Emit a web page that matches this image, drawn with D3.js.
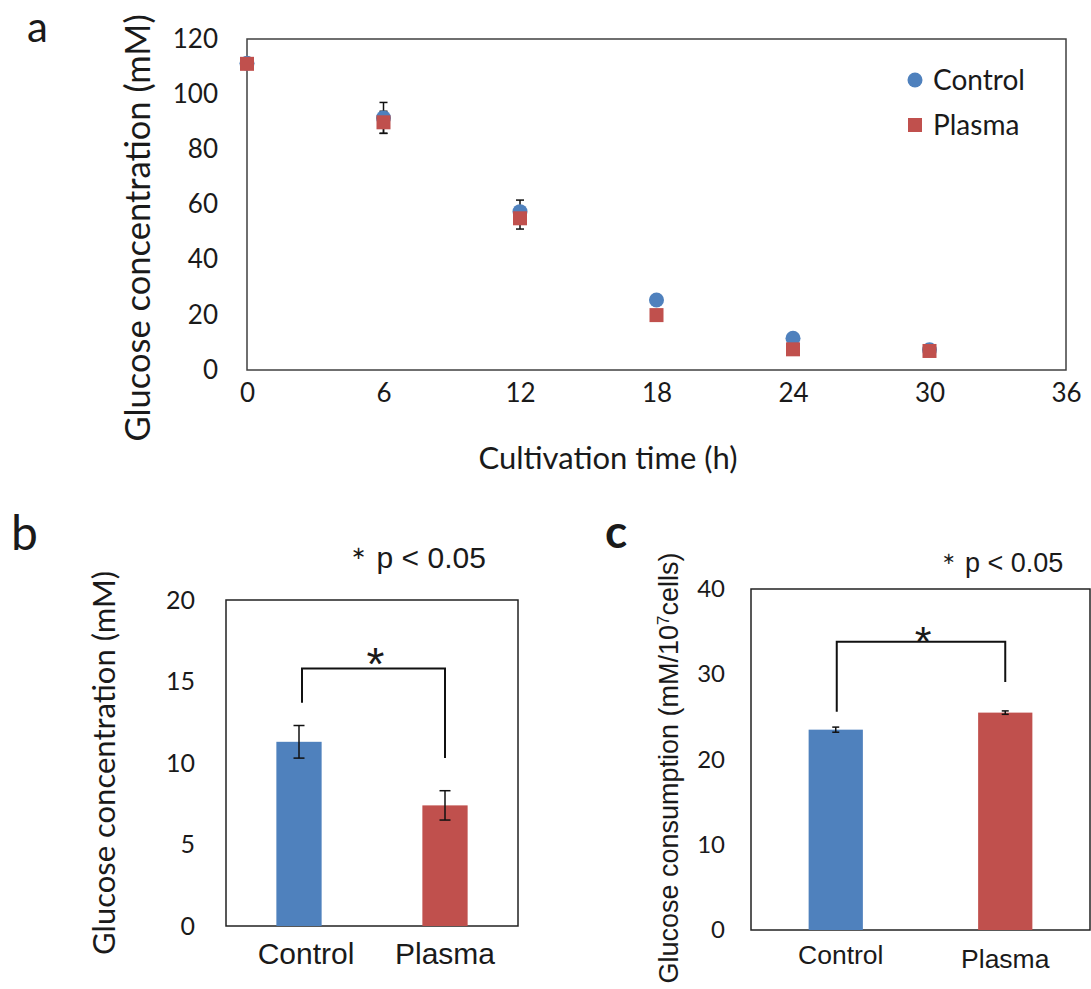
<!DOCTYPE html>
<html>
<head>
<meta charset="utf-8">
<script src="https://cdnjs.cloudflare.com/ajax/libs/d3/7.8.5/d3.min.js"></script>
<style>
  body { margin: 0; background: #fff; }
  svg text { font-family: Lato, "Open Sans", sans-serif; fill: #1a1a1a; }
</style>
</head>
<body>
<script>
// ---- data, panel a (glucose over cultivation time)
var hours = [0, 6, 12, 18, 24, 30];
var controlTime = [111.2, 91.4, 57.4, 25.4, 11.5, 7.3];
var controlTimeErr = [1.2, 5.6, 4.2, 1.0, 0.8, 0.5];
var plasmaTime = [111.0, 89.8, 55.0, 19.9, 7.5, 6.9];
var plasmaTimeErr = [1.0, 4.0, 3.9, 0.8, 0.6, 0.4];
var xTicksA = [0, 6, 12, 18, 24, 30, 36];
var yTicksA = [0, 20, 40, 60, 80, 100, 120];

// ---- data, panel b (residual glucose)
var groups = ["Control", "Plasma"];
var residual = [11.3, 7.4];
var residualErr = [1.0, 0.9];
var yTicksB = [0, 5, 10, 15, 20];
var bracketB = [13.7, 15.8, 10.3];   // left foot, bar, right foot

// ---- data, panel c (glucose consumption)
var consumption = [23.5, 25.5];
var consumptionErr = [0.3, 0.2];
var yTicksC = [0, 10, 20, 30, 40];
var bracketC = [25.6, 33.8, 29.1];

var blue = "#4f81bd";
var red = "#c0504d";
var arial = "Liberation Sans, Arial, sans-serif";

var svg = d3.select("body")
            .append("svg")
            .attr("width", 1091)
            .attr("height", 989);

// ================= panel a =================
var boxA = {left: 247, right: 1066, top: 39, bottom: 370};

var xA = d3.scaleLinear().domain([0, 36]).range([boxA.left, boxA.right]);
var yA = d3.scaleLinear().domain([0, 120]).range([boxA.bottom, boxA.top]);

var gA = svg.append("g");

gA.append("rect")
  .attr("x", boxA.left)
  .attr("y", boxA.top)
  .attr("width", boxA.right - boxA.left)
  .attr("height", boxA.bottom - boxA.top)
  .attr("fill", "none")
  .attr("stroke", "#404040")
  .attr("stroke-width", 1.5);

// axes without lines, only labels
var axA = gA.append("g")
            .attr("transform", "translate(" + [boxA.left, 0] + ")")
            .call(d3.axisLeft(yA).tickValues(yTicksA).tickSize(0).tickPadding(29));
var axAx = gA.append("g")
             .attr("transform", "translate(" + [0, boxA.bottom] + ")")
             .call(d3.axisBottom(xA).tickValues(xTicksA).tickSize(0).tickPadding(14));
[axA, axAx].forEach(function(ax) {
  ax.select(".domain").remove();
  ax.selectAll("text")
    .style("font-family", "Lato")
    .style("font-size", "26px")
    .attr("fill", "#1a1a1a");
});

gA.append("text")
  .attr("x", 608)
  .attr("y", 469)
  .attr("text-anchor", "middle")
  .style("font-size", "31px")
  .text("Cultivation time (h)");

gA.append("text")
  .attr("transform", "translate(" + [150, 228] + ") rotate(-90)")
  .attr("text-anchor", "middle")
  .style("font-size", "34.5px")
  .text("Glucose concentration (mM)");

// error bars first, markers on top
function errorBars(g, xs, ys, errs, xScale, yScale, cap) {
  var eb = g.append("g").attr("stroke", "#111").attr("stroke-width", 1.5);
  xs.forEach(function(d, i) {
    var x = xScale(d);
    var y1 = yScale(ys[i] + errs[i]);
    var y2 = yScale(ys[i] - errs[i]);
    eb.append("line").attr("x1", x).attr("x2", x).attr("y1", y1).attr("y2", y2);
    eb.append("line").attr("x1", x - cap / 2).attr("x2", x + cap / 2).attr("y1", y1).attr("y2", y1);
    eb.append("line").attr("x1", x - cap / 2).attr("x2", x + cap / 2).attr("y1", y2).attr("y2", y2);
  });
}

errorBars(gA, hours, controlTime, controlTimeErr, xA, yA, 8);
errorBars(gA, hours, plasmaTime, plasmaTimeErr, xA, yA, 8);

gA.append("g")
  .selectAll("circle")
  .data(hours)
  .enter()
  .append("circle")
  .attr("cx", function(d) { return xA(d); })
  .attr("cy", function(d, i) { return yA(controlTime[i]); })
  .attr("r", 7.5)
  .attr("fill", blue);

gA.append("g")
  .selectAll("rect")
  .data(hours)
  .enter()
  .append("rect")
  .attr("x", function(d) { return xA(d) - 7; })
  .attr("y", function(d, i) { return yA(plasmaTime[i]) - 7; })
  .attr("width", 14)
  .attr("height", 14)
  .attr("fill", red);

// legend
var leg = gA.append("g").attr("transform", "translate(915, 80)");
leg.append("circle").attr("r", 7.5).attr("fill", blue);
leg.append("rect").attr("x", -7).attr("y", 38).attr("width", 14).attr("height", 14).attr("fill", red);
leg.append("text").attr("x", 18).attr("y", 10).style("font-size", "28px").attr("fill", "#595959").text("Control");
leg.append("text").attr("x", 18).attr("y", 55).style("font-size", "28px").attr("fill", "#595959").text("Plasma");

// panel letters
svg.append("text").attr("x", 27).attr("y", 42).style("font-size", "42px").text("a");
svg.append("text").attr("x", 11).attr("y", 550).style("font-size", "48px").text("b");
svg.append("text").attr("x", 605).attr("y", 548).style("font-size", "46px").style("font-weight", 700).text("c");

// ================= bar panels b and c =================
function barPanel(opt) {
  var g = svg.append("g");
  var box = opt.box;

  var x = d3.scaleBand().domain(groups).range([box.left, box.right]);
  var y = d3.scaleLinear().domain(opt.domain).range([box.bottom, box.top]);
  var bw = x.bandwidth() * opt.barFrac;

  g.append("rect")
   .attr("x", box.left)
   .attr("y", box.top)
   .attr("width", box.right - box.left)
   .attr("height", box.bottom - box.top)
   .attr("fill", "none")
   .attr("stroke", "#222")
   .attr("stroke-width", 1.5);

  g.selectAll(".bar")
   .data(groups)
   .enter()
   .append("rect")
   .attr("class", "bar")
   .attr("x", function(d) { return x(d) + x.bandwidth() / 2 - bw / 2; })
   .attr("y", function(d, i) { return y(opt.values[i]); })
   .attr("width", bw)
   .attr("height", function(d, i) { return box.bottom - y(opt.values[i]); })
   .attr("fill", function(d, i) { return i === 0 ? blue : red; });

  var centre = function(d) { return x(d) + x.bandwidth() / 2; };
  errorBars(g, groups, opt.values, opt.errs, centre, y, opt.cap);

  var ax = g.append("g")
            .attr("transform", "translate(" + [box.left, 0] + ")")
            .call(d3.axisLeft(y).tickValues(opt.ticks).tickSize(0).tickPadding(opt.tickPad));
  ax.select(".domain").remove();
  ax.selectAll("text")
    .style("font-family", "Lato")
    .style("font-size", opt.tickFont + "px")
    .attr("fill", "#1a1a1a");

  // category labels
  g.selectAll(".cat")
   .data(groups)
   .enter()
   .append("text")
   .attr("class", "cat")
   .attr("x", function(d) { return centre(d) + (d === "Control" ? opt.catShift : 0); })
   .attr("y", function(d, i) { return opt.catY[i]; })
   .attr("text-anchor", "middle")
   .style("font-family", arial)
   .style("font-size", opt.catFont + "px")
   .text(function(d) { return d; });

  // significance bracket
  var xl = centre(groups[0]) + opt.bracketShift, xr = centre(groups[1]);
  var br = opt.bracket;
  g.append("path")
   .attr("d", "M" + xl + "," + y(br[0]) + "V" + y(br[1]) + "H" + xr + "V" + y(br[2]))
   .attr("fill", "none")
   .attr("stroke", "#111")
   .attr("stroke-width", 2);
  g.append("text")
   .attr("x", (xl + xr) / 2 + 2)
   .attr("y", y(br[1]) + opt.starDy)
   .attr("text-anchor", "middle")
   .style("font-family", arial)
   .style("font-size", opt.starFont + "px")
   .text("*");

  // p value note
  var note = g.append("text")
              .attr("x", opt.note[0])
              .attr("y", opt.note[1])
              .style("font-family", arial)
              .style("font-size", opt.noteFont + "px");
  note.append("tspan")
      .style("font-family", "DejaVu Sans")
      .style("font-size", (opt.noteFont * 0.6) + "px")
      .attr("dy", -opt.noteFont * 0.3)
      .text("∗");
  note.append("tspan")
      .attr("dy", opt.noteFont * 0.3)
      .attr("dx", opt.noteFont * 0.35)
      .text("p < 0.05");

  return g;
}

var gB = barPanel({
  box: {left: 226, right: 518, top: 600, bottom: 926},
  domain: [0, 20], ticks: yTicksB, values: residual, errs: residualErr,
  barFrac: 0.31, cap: 11, tickPad: 31, tickFont: 25,
  catY: [964, 964], catFont: 30, catShift: 7,
  bracket: bracketB, bracketShift: 3, starDy: 12, starFont: 46,
  note: [351, 568], noteFont: 30
});
gB.append("text")
  .attr("transform", "translate(" + [115, 763] + ") rotate(-90)")
  .attr("text-anchor", "middle")
  .style("font-size", "31px")
  .text("Glucose concentration (mM)");

var gC = barPanel({
  box: {left: 751, right: 1090, top: 589, bottom: 930},
  domain: [0, 40], ticks: yTicksC, values: consumption, errs: consumptionErr,
  barFrac: 0.32, cap: 7, tickPad: 26, tickFont: 24,
  catY: [964, 968], catFont: 26.5, catShift: 5,
  bracket: bracketC, bracketShift: 1, starDy: 14, starFont: 43,
  note: [942, 572], noteFont: 27
});
var titleC = gC.append("text")
  .attr("transform", "translate(" + [678, 768] + ") rotate(-90)")
  .attr("text-anchor", "middle")
  .style("font-family", arial)
  .style("font-size", "27px");
titleC.append("tspan").text("Glucose consumption (mM/10");
titleC.append("tspan").attr("baseline-shift", "super").style("font-size", "17px").text("7");
titleC.append("tspan").text("cells)");
</script>
</body>
</html>
